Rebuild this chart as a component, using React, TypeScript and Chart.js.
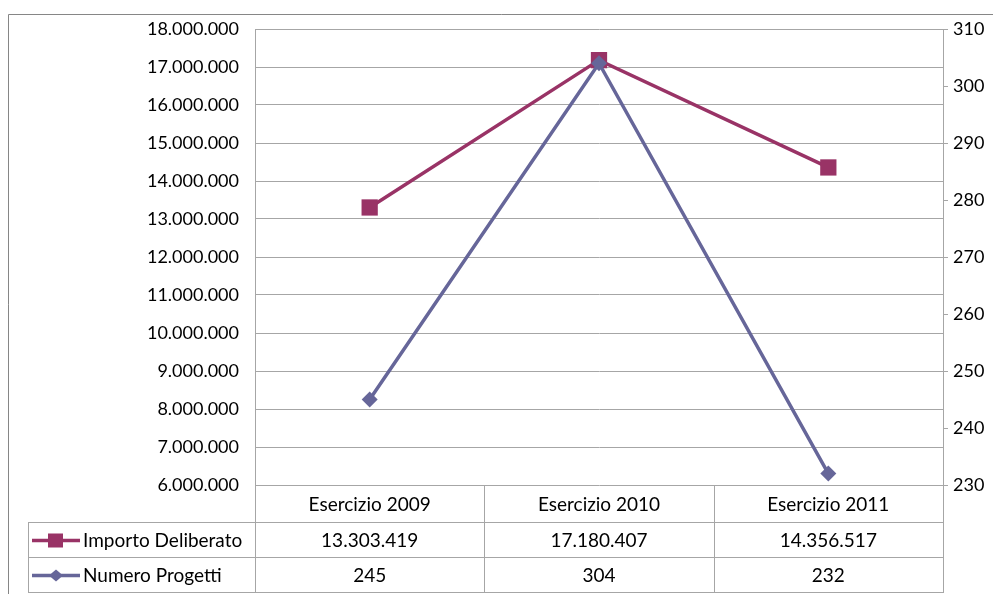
import React, { useEffect, useRef } from "react";
import { Chart, registerables } from "chart.js";

Chart.register(...registerables);

const categories = ["Esercizio 2009", "Esercizio 2010", "Esercizio 2011"];
const importoDeliberato = [13303419, 17180407, 14356517];
const numeroProgetti = [245, 304, 232];
const seriesNames = ["Importo Deliberato", "Numero Progetti"];
const leftMin = 6000000;
const leftMax = 18000000;
const leftStep = 1000000;
const rightMin = 230;
const rightMax = 310;
const rightStep = 10;

const COLOR_IMPORTO = "#993366";
const COLOR_PROGETTI = "#666699";
const LINE_COLOR = "#a6a6a6";
const FONT = "Lato";

const fmt = (v: number) =>
  Math.round(v)
    .toString()
    .replace(/\B(?=(\d{3})+(?!\d))/g, ".");

const tablePlugin = {
  id: "dataTable",
  afterDraw(chart: any) {
    const { ctx, chartArea: ca } = chart;
    const n = categories.length;
    const colW = (ca.right - ca.left) / n;
    const catTop = ca.bottom;
    const catBottom = catTop + 37;
    const r1Bottom = catBottom + 35;
    const r2Bottom = r1Bottom + 35;
    const tableLeft = 28;
    const px = (v: number) => Math.round(v) + 0.5;

    ctx.save();
    // outer chart border
    ctx.strokeStyle = "#868686";
    ctx.lineWidth = 1;
    ctx.beginPath();
    ctx.moveTo(8.5, 600);
    ctx.lineTo(8.5, 14.5);
    ctx.lineTo(1000, 14.5);
    ctx.stroke();

    // table lines
    ctx.strokeStyle = LINE_COLOR;
    ctx.beginPath();
    for (let i = 0; i <= n; i++) {
      const x = px(ca.left + i * colW);
      ctx.moveTo(x, catTop);
      ctx.lineTo(x, r2Bottom);
    }
    ctx.moveTo(px(tableLeft), catBottom);
    ctx.lineTo(px(tableLeft), r2Bottom);
    [catBottom, r1Bottom, r2Bottom].forEach((y) => {
      ctx.moveTo(tableLeft, px(y));
      ctx.lineTo(ca.right + 1, px(y));
    });
    ctx.stroke();

    // text
    ctx.fillStyle = "#000";
    ctx.font = `19px ${FONT}`;
    ctx.textBaseline = "middle";
    ctx.textAlign = "center";
    const xs = chart.scales.x;
    categories.forEach((c, i) => {
      const cx = xs.getPixelForValue(i);
      ctx.fillText(c, cx, (catTop + catBottom) / 2 + 1);
      ctx.fillText(fmt(importoDeliberato[i]), cx, (catBottom + r1Bottom) / 2 + 1);
      ctx.fillText(fmt(numeroProgetti[i]), cx, (r1Bottom + r2Bottom) / 2 + 1);
    });
    ctx.textAlign = "left";
    const y1 = (catBottom + r1Bottom) / 2 + 1;
    const y2 = (r1Bottom + r2Bottom) / 2 + 1;
    ctx.fillText(seriesNames[0], 83, y1);
    ctx.fillText(seriesNames[1], 83, y2);

    // legend keys
    ctx.lineWidth = 3.5;
    ctx.strokeStyle = COLOR_IMPORTO;
    ctx.beginPath();
    ctx.moveTo(32, y1);
    ctx.lineTo(80, y1);
    ctx.stroke();
    ctx.fillStyle = COLOR_IMPORTO;
    ctx.fillRect(48, y1 - 7, 15, 14);

    ctx.strokeStyle = COLOR_PROGETTI;
    ctx.beginPath();
    ctx.moveTo(32, y2);
    ctx.lineTo(80, y2);
    ctx.stroke();
    ctx.fillStyle = COLOR_PROGETTI;
    ctx.beginPath();
    ctx.moveTo(56, y2 - 6);
    ctx.lineTo(63, y2);
    ctx.lineTo(56, y2 + 6);
    ctx.lineTo(49, y2);
    ctx.closePath();
    ctx.fill();
    ctx.restore();
  },
};

export default function App() {
  const ref = useRef<HTMLCanvasElement>(null);

  useEffect(() => {
    if (!ref.current) return;
    const chart = new Chart(ref.current, {
      type: "line",
      data: {
        labels: categories,
        datasets: [
          {
            label: seriesNames[0],
            data: importoDeliberato,
            yAxisID: "y",
            borderColor: COLOR_IMPORTO,
            backgroundColor: COLOR_IMPORTO,
            borderWidth: 3.5,
            pointStyle: "rect",
            pointRadius: 11.5,
            pointBorderWidth: 0,
            tension: 0,
            order: 1,
            clip: false as any,
          },
          {
            label: seriesNames[1],
            data: numeroProgetti,
            yAxisID: "y1",
            borderColor: COLOR_PROGETTI,
            backgroundColor: COLOR_PROGETTI,
            borderWidth: 3.5,
            pointStyle: "rectRot",
            pointRadius: 8,
            pointBorderWidth: 0,
            tension: 0,
            order: 0,
            clip: false as any,
          },
        ],
      },
      options: {
        responsive: false,
        animation: false,
        devicePixelRatio: 1,
        layout: { padding: { top: 29, left: 0, right: 0, bottom: 0 } },
        plugins: {
          legend: { display: false },
          tooltip: { enabled: false },
          title: { display: false },
        },
        scales: {
          x: {
            type: "category",
            offset: true,
            grid: { display: false },
            border: { display: false },
            ticks: { display: false },
            afterFit: (s: any) => {
              s.height = 109;
            },
          },
          y: {
            type: "linear",
            position: "left",
            min: leftMin,
            max: leftMax,
            ticks: {
              stepSize: leftStep,
              callback: (v: any) => fmt(Number(v)),
              font: { family: FONT, size: 18 },
              color: "#000",
              padding: 16,
            },
            grid: { color: LINE_COLOR, drawTicks: false, lineWidth: 1 },
            border: { display: true, color: LINE_COLOR },
            afterFit: (s: any) => {
              s.width = 255;
            },
          },
          y1: {
            type: "linear",
            position: "right",
            min: rightMin,
            max: rightMax,
            ticks: {
              stepSize: rightStep,
              font: { family: FONT, size: 18 },
              color: "#000",
              padding: 5,
            },
            grid: {
              drawOnChartArea: false,
              drawTicks: true,
              tickLength: 5,
              color: LINE_COLOR,
            },
            border: { display: true, color: LINE_COLOR },
            afterFit: (s: any) => {
              s.width = 50;
            },
          },
        },
      },
      plugins: [tablePlugin],
    });
    return () => chart.destroy();
  }, []);

  return (
    <div style={{ position: "fixed", left: 0, top: 0, width: 993, height: 594, background: "#fff" }}>
      <canvas ref={ref} width={993} height={594} />
    </div>
  );
}
